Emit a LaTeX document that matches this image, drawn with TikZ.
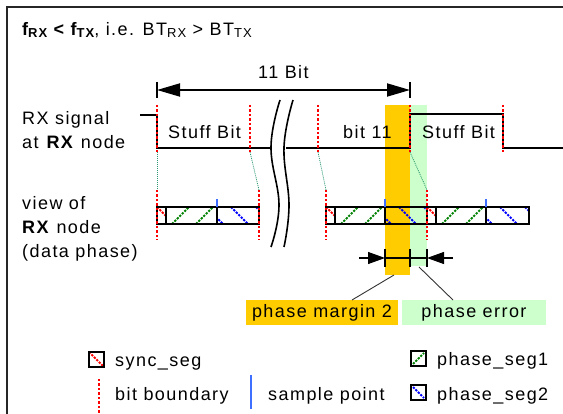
\documentclass[tikz,border=0pt]{standalone}
\usepackage{fontspec}
\setmainfont{Liberation Sans}[LetterSpace=8]
\usetikzlibrary{arrows.meta}
\definecolor{bandO}{HTML}{FFCC00}
\definecolor{bandG}{HTML}{CCFFCC}
\definecolor{hatchG}{HTML}{008000}
\definecolor{hatchB}{HTML}{0000FF}
\definecolor{spcol}{HTML}{3F6FFF}
\definecolor{conncol}{HTML}{2E9970}
\newcommand\sbs[1]{\raisebox{-1.5pt}{\fontsize{13}{13}\selectfont #1}}
\tikzset{
  every node/.style={font=\fontsize{18}{22}\selectfont, inner sep=0pt},
  txt/.style={anchor=base west},
  sig/.style={line width=2pt, black},
  bnd/.style={red, line width=2pt, dash pattern=on 2.5pt off 2pt},
  conn/.style={conncol, line width=0.8pt, dash pattern=on 1pt off 1pt},
  segbox/.style={draw=black, line width=1.8pt},
  hr/.style={red, line width=2pt, dash pattern=on 2.2pt off 1.3pt},
  hg/.style={hatchG, line width=2pt, dash pattern=on 2.2pt off 1.3pt},
  hb/.style={hatchB, line width=2pt, dash pattern=on 2.2pt off 1.3pt},
  spt/.style={spcol, line width=1.8pt},
  tick/.style={black, line width=1.1pt},
  ptr/.style={black!80, line width=0.9pt},
  brk/.style={black, line width=1.6pt},
  lbl/.style={minimum height=25pt, inner sep=0pt},
}
\newcommand\bitview[4]{%
  \begin{scope}
    \clip (#1,207) rectangle (#2,224);
    \draw[hr] (#1,207) -- ++(17,17);
  \end{scope}
  \begin{scope}
    \clip (#2,207) rectangle (#3,224);
    \foreach \k in {-1,0,1,2} \draw[hg] ({#2+6+24*\k},224) -- ++(17,-17);
  \end{scope}
  \begin{scope}
    \clip (#3,207) rectangle (#4,224);
    \foreach \k in {-1,0,1,2} \draw[hb] ({#3-11+25*\k},207) -- ++(17,17);
  \end{scope}
  \draw[segbox] (#1,207) rectangle (#4,224);
  \draw[segbox] (#2,207) -- (#2,224) (#3,207) -- (#3,224);
  \draw[spt] (#3,199) -- (#3,207);
}
\begin{document}
\begin{tikzpicture}[x=1pt,y=-1pt]
\useasboundingbox (0,0) rectangle (563,414);
% frame
\draw[line width=1.8pt, black!85] (7,414) -- (7,7) -- (563,7);
% title
\node[txt] (title) at (22,36) {\textbf{f\sbs{RX} < f\sbs{TX}}, i.e. BT\sbs{RX} > BT\sbs{TX}};
% bands
\fill[bandO] (385,105) rectangle (410,275);
\fill[bandG] (410,105) rectangle (427,266);
% 11 Bit arrow
\coordinate (aL) at (157,90);
\coordinate (aR) at (410,90);
\draw[tick] (157,82) -- (157,98);
\draw[tick] (410,82) -- (410,98);
\draw[line width=1.8pt, {Triangle[length=23pt,width=13pt]}-{Triangle[length=23pt,width=13pt]}] (aL) -- (aR);
\node[txt] (n11) at (258,79) {11 Bit};
% labels left
\node[txt] (rx1) at (22,125) {RX signal};
\node[txt] (rx2) at (22,149) {at \textbf{RX} node};
\node[txt] (v1) at (22,210) {view of};
\node[txt] (v2) at (22,234) {\textbf{RX} node};
\node[txt] (v3) at (22,258) {(data phase)};
% signal
\draw[sig] (140,115) -- (157,115) -- (157,148) -- (271,148);
\draw[sig] (286,148) -- (410,148) -- (410,114) -- (503,114) -- (503,148) -- (563,148);
% break symbol
\draw[brk] plot[smooth, tension=0.7] coordinates {(280,100) (271,147) (279,205) (271,247)};
\draw[brk] plot[smooth, tension=0.7] coordinates {(293,100) (284,147) (289,205) (284,247)};
% signal texts
\node[txt] (sb1) at (168,139) {Stuff Bit};
\node[txt] (b11) at (343,139) {bit 11};
\node[txt] (sb2) at (422,139) {Stuff Bit};
% connectors signal -> view
\coordinate (s1) at (157,152); \coordinate (t1) at (157,190);
\coordinate (s2) at (250,152); \coordinate (t2) at (259,190);
\coordinate (s3) at (318,152); \coordinate (t3) at (326,190);
\coordinate (s4) at (410,152); \coordinate (t4) at (427,190);
\draw[conn] (s1) -- (t1);
\draw[conn] (s2) -- (t2);
\draw[conn] (s3) -- (t3);
\draw[conn] (s4) -- (t4);
% view bits
\bitview{157}{166}{217}{259}
\bitview{326}{335}{385}{427}
\bitview{427}{436}{486}{529}
% bit boundaries
\foreach \x in {157,250,318,410,503} \draw[bnd] (\x,105) -- (\x,152);
\foreach \x in {157,259,326,427} \draw[bnd] (\x,190) -- (\x,240);
% measurement
\draw[tick] (385,249) -- (385,267);
\draw[tick] (410,249) -- (410,267);
\draw[tick] (427,249) -- (427,267);
\draw[tick] (385,258) -- (427,258);
\draw[tick, -{Triangle[length=17pt,width=12pt]}] (359,258) -- (385,258);
\draw[tick, -{Triangle[length=17pt,width=12pt]}] (453,258) -- (427,258);
% labels
\node[lbl, fill=bandO, minimum width=152pt] (pm) at (322,312.5) {phase margin 2};
\node[lbl, fill=bandG, minimum width=144pt] (pe) at (474,312.5) {phase error};
\coordinate (pmA) at (394,275); \coordinate (pmB) at (352,300);
\coordinate (peA) at (419,267); \coordinate (peB) at (453,300);
\draw[ptr] (pmA) -- (pmB);
\draw[ptr] (peA) -- (peB);
% legend
\begin{scope}
  \clip (89,352) rectangle (104,367);
  \draw[hr] (89,352) -- (104,367);
\end{scope}
\draw[segbox] (89,352) rectangle (104,367);
\node[txt] (lg1) at (115,367) {sync\_seg};
\draw[hg] (413,364) -- (424,353);
\draw[segbox] (411,351) rectangle (426,366);
\node[txt] (lg2) at (437,366) {phase\_seg1};
\draw[bnd] (99,379) -- (99,414);
\node[txt] (lg3) at (115,400) {bit boundary};
\draw[spt] (251,375) -- (251,409);
\node[txt] (lg4) at (268,400) {sample point};
\draw[hb] (413,387) -- (424,398);
\draw[segbox] (411,385) rectangle (426,400);
\node[txt] (lg5) at (437,400) {phase\_seg2};
\end{tikzpicture}
\end{document}
